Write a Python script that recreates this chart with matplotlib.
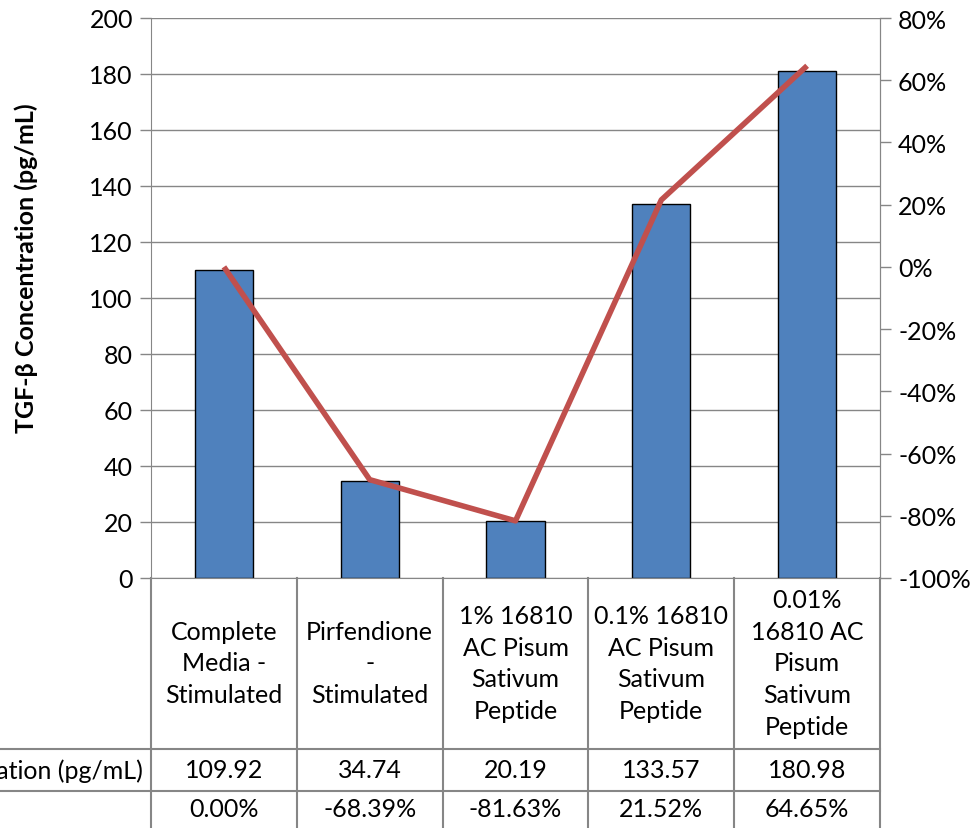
import matplotlib.pyplot as plt
import matplotlib.ticker as ticker
import matplotlib.transforms as transforms

# data
categories = ["Complete\nMedia -\nStimulated",
              "Pirfendione\n-\nStimulated",
              "1% 16810\nAC Pisum\nSativum\nPeptide",
              "0.1% 16810\nAC Pisum\nSativum\nPeptide",
              "0.01%\n16810 AC\nPisum\nSativum\nPeptide"]
concentration = [109.92, 34.74, 20.19, 133.57, 180.98]
pct_change = [0.00, -68.39, -81.63, 21.52, 64.65]
conc_labels = ["109.92", "34.74", "20.19", "133.57", "180.98"]
pct_labels = ["0.00%", "-68.39%", "-81.63%", "21.52%", "64.65%"]
row_label = "TGF-β Concentration (pg/mL)"

plt.rcParams['font.family'] = ['Lato', 'DejaVu Sans']
plt.rcParams['axes.unicode_minus'] = False
grey = "#868686"
fs = 18

fig = plt.figure(figsize=(9.72, 8.29), dpi=100)
ax = fig.add_axes([151 / 972, 1 - 579 / 829, 729 / 972, 560 / 829])

x = list(range(len(categories)))
ax.bar(x, concentration, width=0.4, color="#4F81BD", edgecolor="black", linewidth=1, zorder=2)
ax.set_xlim(-0.5, len(categories) - 0.5)
ax.set_ylim(0, 200)
ax.set_yticks(range(0, 201, 20))
ax.yaxis.grid(True, color=grey, linewidth=1)
ax.set_axisbelow(True)
ax.set_xticks([])
ax.spines["top"].set_visible(False)
for s in ["left", "bottom", "right"]:
    ax.spines[s].set_color(grey)
ax.tick_params(axis="y", colors=grey, labelcolor="black", labelsize=fs, length=8, width=1, pad=5)
ax.set_ylabel(row_label, fontsize=fs, fontweight="bold")
ax.yaxis.set_label_coords(-0.155, 0.555)

ax2 = ax.twinx()
ax2.plot(x, pct_change, color="#C0504D", linewidth=4, solid_capstyle="butt", zorder=3)
ax2.set_ylim(-100, 80)
ax2.set_yticks(range(-100, 81, 20))
ax2.yaxis.set_major_formatter(ticker.PercentFormatter(decimals=0))
for s in ["top", "left", "bottom"]:
    ax2.spines[s].set_visible(False)
ax2.spines["right"].set_color(grey)
ax2.tick_params(axis="y", colors=grey, labelcolor="black", labelsize=fs, length=8, width=1, pad=5)

# data table below the plot
trans = transforms.blended_transform_factory(ax.transData, fig.transFigure)
y_axis = 1 - 579 / 829
y_r1 = 1 - 750 / 829
y_r2 = 1 - 792 / 829
y_end = 0.0
lw = 1.5
for b in [i - 0.5 for i in range(len(categories) + 1)]:
    ax.plot([b, b], [y_axis, y_end], transform=trans, color=grey, lw=lw, clip_on=False)
fig.add_artist(plt.Line2D([0, 880 / 972], [y_r1, y_r1], color=grey, lw=lw))
fig.add_artist(plt.Line2D([0, 880 / 972], [y_r2, y_r2], color=grey, lw=lw))

for i, cat in enumerate(categories):
    ax.text(i, 1 - 664 / 829, cat, transform=trans, ha="center", va="center",
            fontsize=fs, linespacing=1.45)
    ax.text(i, 1 - 771 / 829, conc_labels[i], transform=trans, ha="center", va="center", fontsize=fs)
    ax.text(i, 1 - 810 / 829, pct_labels[i], transform=trans, ha="center", va="center", fontsize=fs)

fig.text(143 / 972, 1 - 771 / 829, row_label, ha="right", va="center", fontsize=fs)

fig.savefig("out.png", dpi=100)
